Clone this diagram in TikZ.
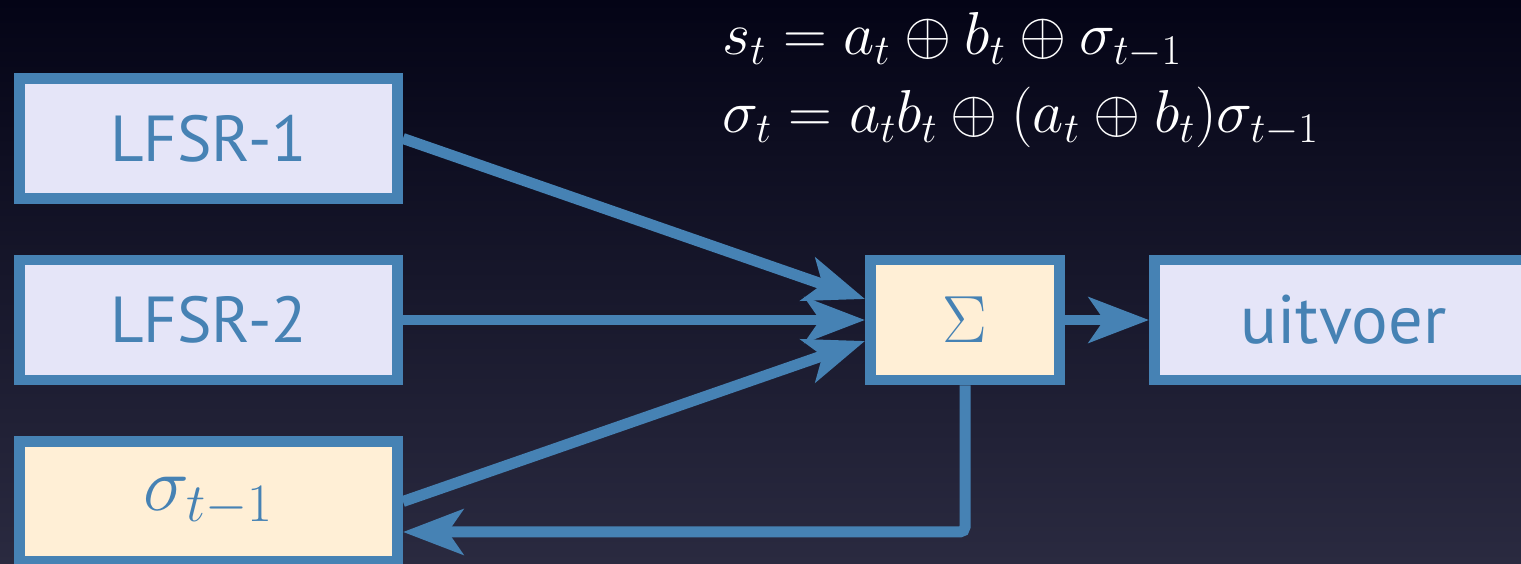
\RequirePackage{fix-cm}
\documentclass[tikz,border=0pt]{standalone}
\usepackage{fontspec}
\setmainfont{PT Sans}
\usetikzlibrary{arrows.meta}
\definecolor{edge}{RGB}{70,130,180}
\definecolor{lav}{RGB}{229,229,248}
\definecolor{cream}{RGB}{255,239,214}
\definecolor{bgtop}{RGB}{4,4,22}
\definecolor{bgbot}{RGB}{42,42,64}
\begin{document}
\begin{tikzpicture}[
  x=0.02cm, y=-0.02cm,
  font=\fontsize{37}{44}\selectfont,
  box/.style={draw=edge, line width=0.21cm, rectangle, minimum width=7.57cm, minimum height=2.41cm, align=center, text=edge},
  small/.style={box, minimum width=3.79cm},
  reg/.style={fill=lav},
  carry/.style={fill=cream},
  arrow/.style={-{Stealth[length=1.2cm, width=0.9cm, inset=0.3cm]}, draw=edge, line width=0.22cm},
  eq/.style={text=white, anchor=base west, inner sep=0pt, font=\fontsize{34.5}{40}\selectfont},
]
\useasboundingbox (0,0) rectangle (1521,564);
\clip (0,0) rectangle (1521,564);
\shade[top color=bgtop, bottom color=bgbot] (0,0) rectangle (1521,564);

\node[eq] (eqs) at (722,55) {$s_t = a_t \oplus b_t \oplus \sigma_{t-1}$};
\node[eq] (eqc) at (722,133) {$\sigma_t = a_t b_t \oplus (a_t \oplus b_t)\sigma_{t-1}$};

\node[box, reg] (lfsra) at (208.5,138.5) {LFSR-1};
\node[box, reg] (lfsrb) at (208.5,320) {LFSR-2};
\node[box, carry] (sig) at (208.5,501.5) {\fontsize{44}{50}\selectfont$\sigma_{t-1}$};
\node[small, carry] (sum) at (965,320) {\fontsize{38}{44}\selectfont$\Sigma$};
\node[box, reg] (out) at (1343.5,320) {\fontsize{39}{44}\selectfont uitvoer};

\draw[arrow] (lfsra.east) -- ([yshift=0.42cm]sum.west);
\draw[arrow] (lfsrb) -- (sum);
\draw[arrow] (sig.east) -- ([yshift=-0.42cm]sum.west);
\draw[arrow] (sum) -- (out);
\draw[arrow, rounded corners=0.1cm] (sum.south) |- ([yshift=-0.61cm]sig.east);
\end{tikzpicture}
\end{document}
